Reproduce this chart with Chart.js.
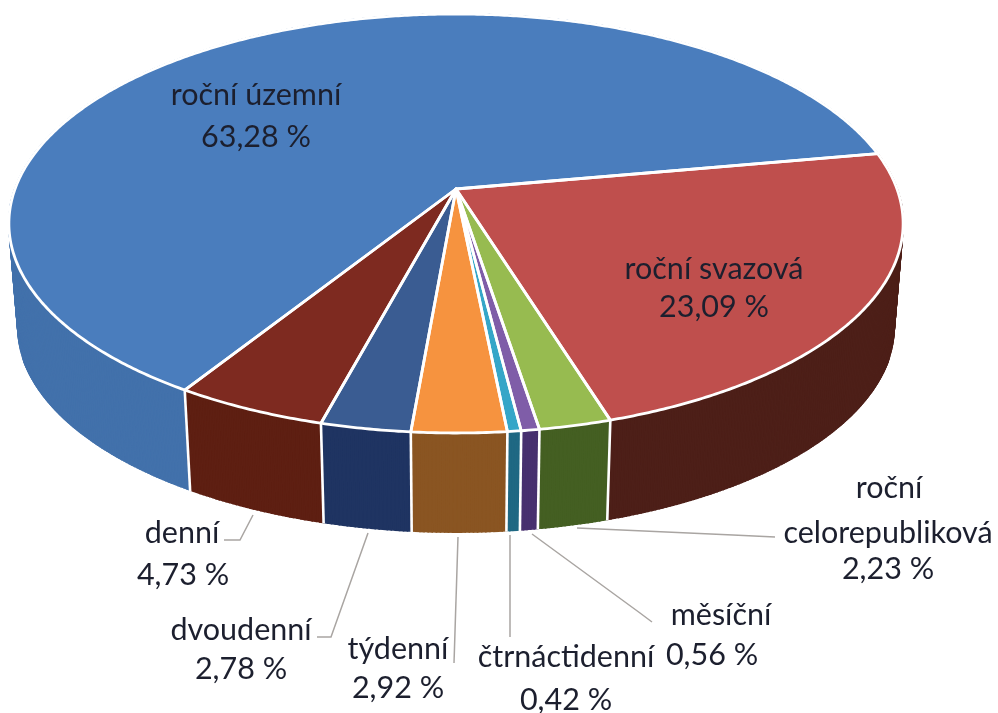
<!DOCTYPE html>
<html><head><meta charset="utf-8">
<style>html,body{margin:0;padding:0;background:#fff}canvas{display:block;filter:blur(0.5px)}</style>
<script src="https://cdn.jsdelivr.net/npm/chart.js@4"></script>
</head><body><canvas id="c" width="998" height="713"></canvas>
<script>
const categories = ["roční územní","roční svazová","roční celorepubliková","měsíční","čtrnáctidenní","týdenní","dvoudenní","denní"];
const shares = [63.28,23.09,2.23,0.56,0.42,2.92,2.78,4.73];
const topColors = ["#4a7dbd","#bf4f4d","#97bb50","#7f5da8","#35a6c8","#f6933f","#3a5c92","#7e2a20"];
const sideColors = ["#4271ab","#4d1f18","#445f22","#47306f","#1f6883","#8a5522","#1f3462","#5e1f12"];
const labelLines = [
  ["roční územní"],["roční svazová"],["roční","celorepubliková"],["měsíční"],
  ["čtrnáctidenní"],["týdenní"],["dvoudenní"],["denní"]];
// layout only: text anchors [x, y] per line (last is the value line)
const labelAnchors = [
  [[256,95],[256,137]],
  [[714,269],[714,307]],
  [[889,488],[888,533],[888,569]],
  [[721,615],[712,655]],
  [[566,657],[566,700]],
  [[398,649],[398,688]],
  [[241,630],[241,669]],
  [[182,533],[183,575]]];
const leaders = [
  null,null,
  [[577,528],[733,535],[775,537]],
  [[532,534],[640,613],[652,622]],
  [[510,535],[510,637]],
  [[458,537],[454,663]],
  [[368,533],[331,637],[317,637]],
  [[253,515],[240,540],[224,540]]];
const view = {cx:456, cy:189, A:441, B:203.8, p:-0.1647, shrink:0.98, depth:104};

function project(c, s, lower){
  const w = 1 + view.p*s;
  let x = view.A*c/w, y = view.B*s/w;
  if(lower){ x*=view.shrink; y=y*view.shrink+view.depth; }
  return [view.cx+x, view.cy+y];
}
function arcPoints(a0,a1,lower){
  const n=Math.max(2,Math.ceil(Math.abs(a1-a0)/0.008)), pts=[];
  for(let i=0;i<=n;i++){const t=a0+(a1-a0)*i/n; pts.push(project(Math.cos(t),Math.sin(t),lower));}
  return pts;
}
function poly(ctx,pts){ctx.beginPath();pts.forEach((p,i)=>i?ctx.lineTo(p[0],p[1]):ctx.moveTo(p[0],p[1]));ctx.closePath();}

const pie3d = {
  id:'pie3d',
  beforeDatasetsDraw(chart){
    const ctx=chart.ctx, arcs=chart.getDatasetMeta(0).data;
    ctx.save();
    // outer walls, back to front, swept as a thick stroke so no seams appear
    const order=arcs.map((a,i)=>i).sort((i,j)=>
      Math.sin((arcs[i].startAngle+arcs[i].endAngle)/2)-Math.sin((arcs[j].startAngle+arcs[j].endAngle)/2));
    order.forEach(i=>{
      const a=arcs[i];
      const up=arcPoints(a.startAngle,a.endAngle,false), lo=arcPoints(a.startAngle,a.endAngle,true);
      ctx.fillStyle=sideColors[i];ctx.strokeStyle=sideColors[i];ctx.lineWidth=1.6;
      for(let k=0;k<up.length-1;k++){
        poly(ctx,[up[k],up[k+1],lo[k+1],lo[k]]);ctx.fill();ctx.stroke();
      }
    });
    // white seams on the front wall
    ctx.strokeStyle='#fff';ctx.lineWidth=2.6;
    arcs.forEach(a=>{
      const s=Math.sin(a.startAngle),c=Math.cos(a.startAngle);
      if(s>0){const u=project(c,s,false),l=project(c,s,true);
        ctx.beginPath();ctx.moveTo(u[0],u[1]);ctx.lineTo(l[0],l[1]+1);ctx.stroke();}
    });
    // top faces
    ctx.lineJoin='round';
    arcs.forEach((a,i)=>{
      poly(ctx,[[view.cx,view.cy]].concat(arcPoints(a.startAngle,a.endAngle,false)));
      ctx.fillStyle=topColors[i];ctx.fill();
    });
    ctx.lineWidth=2.8;ctx.strokeStyle='#fff';
    arcs.forEach(a=>{
      poly(ctx,[[view.cx,view.cy]].concat(arcPoints(a.startAngle,a.endAngle,false)));
      ctx.stroke();
    });
    ctx.restore();
    return false;
  },
  afterDraw(chart){
    const ctx=chart.ctx;
    ctx.save();
    ctx.strokeStyle='#a9a5a2';ctx.lineWidth=1.5;
    leaders.forEach(l=>{
      if(!l)return;
      ctx.beginPath();l.forEach((p,i)=>i?ctx.lineTo(p[0],p[1]):ctx.moveTo(p[0],p[1]));ctx.stroke();
    });
    ctx.font='30.5px Lato';ctx.fillStyle='#1c1f2e';ctx.textAlign='center';ctx.textBaseline='middle';
    categories.forEach((_,i)=>{
      const lines=labelLines[i].concat([shares[i].toFixed(2).replace('.',',')+' %']);
      lines.forEach((t,k)=>ctx.fillText(t,labelAnchors[i][k][0],labelAnchors[i][k][1]));
    });
    ctx.restore();
  }
};

new Chart(document.getElementById('c'),{
  type:'pie',
  data:{labels:categories,datasets:[{data:shares,backgroundColor:topColors,borderColor:'#fff'}]},
  options:{responsive:false,animation:false,rotation:-148.05,
    plugins:{legend:{display:false},tooltip:{enabled:false}}},
  plugins:[pie3d]
});
</script></body></html>
